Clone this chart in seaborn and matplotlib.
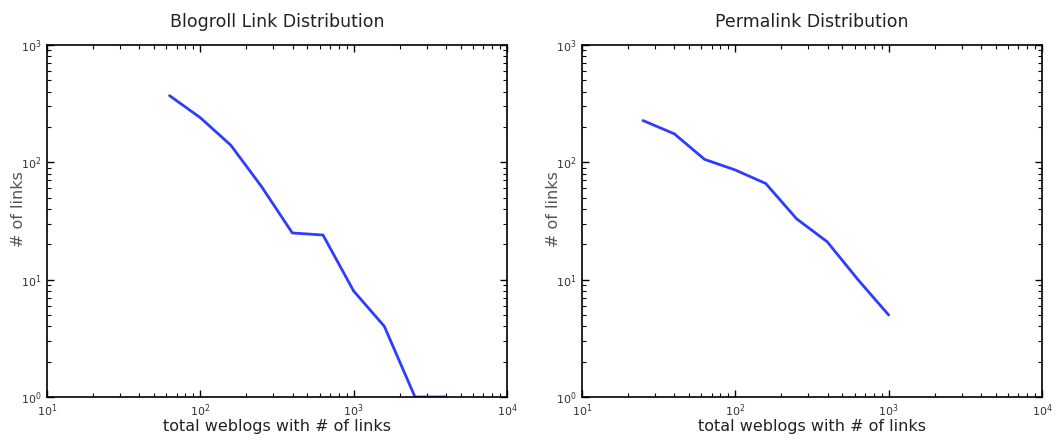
"""
Blogroll vs permalink link distributions, log-log, side by side.
"""

import matplotlib.pyplot as plt
import numpy as np
import pandas as pd
import seaborn as sns
from matplotlib.ticker import LogLocator, NullFormatter

# Blogroll link distribution
blogroll_weblogs = [63, 100, 158, 251, 398, 631, 1000, 1585, 2512, 3981]
blogroll_links = [370, 240, 140, 62, 25, 24, 8, 4, 1, 1]

# Permalink distribution
permalink_weblogs = [25, 40, 63, 100, 158, 251, 398, 631, 1000]
permalink_links = [227, 175, 106, 86, 66, 33, 21, 10, 5]

titles = ["Blogroll Link Distribution", "Permalink Distribution"]
xlabel = "total weblogs with # of links"
ylabel = "# of links"

sns.set_style("white")
plt.rcParams["font.family"] = ["DejaVu Sans"]
plt.rcParams["mathtext.fontset"] = "dejavusans"

line_color = "#2f3cff"

fig = plt.figure(figsize=(10.6, 4.47), dpi=100)
ax1 = fig.add_axes([0.0443, 0.1119, 0.434, 0.7875])
ax2 = fig.add_axes([0.549, 0.1119, 0.434, 0.7875])

datasets = [
    pd.DataFrame({"weblogs": blogroll_weblogs, "links": blogroll_links}),
    pd.DataFrame({"weblogs": permalink_weblogs, "links": permalink_links}),
]

for ax, df, title in zip([ax1, ax2], datasets, titles):
    sns.lineplot(data=df, x="weblogs", y="links", ax=ax, color=line_color,
                 linewidth=2.0, sort=False)
    ax.set_xscale("log")
    ax.set_yscale("log")
    ax.set_xlim(10, 1e4)
    ax.set_ylim(1, 1e3)

    ax.xaxis.set_major_locator(LogLocator(base=10, numticks=10))
    ax.yaxis.set_major_locator(LogLocator(base=10, numticks=10))
    ax.xaxis.set_minor_locator(LogLocator(base=10, subs=np.arange(2, 10), numticks=20))
    ax.yaxis.set_minor_locator(LogLocator(base=10, subs=np.arange(2, 10), numticks=20))
    ax.xaxis.set_minor_formatter(NullFormatter())
    ax.yaxis.set_minor_formatter(NullFormatter())

    ax.tick_params(which="both", direction="in", top=True, right=True,
                   bottom=True, left=True, color="black")
    ax.tick_params(which="major", length=5, width=1.0, labelsize=8,
                   labelcolor="#333333", pad=4)
    ax.tick_params(which="minor", length=3, width=0.8)

    for spine in ax.spines.values():
        spine.set_color("black")
        spine.set_linewidth(1.2)

    ax.set_title(title, fontsize=12.5, color="#222222", pad=13)
    ax.set_xlabel(xlabel, fontsize=11.5, color="#222222", labelpad=0)
    ax.set_ylabel(ylabel, fontsize=11.5, color="#555555")
    ax.yaxis.set_label_coords(-0.045, 0.535)

plt.savefig("out.png", dpi=100)
plt.close()
